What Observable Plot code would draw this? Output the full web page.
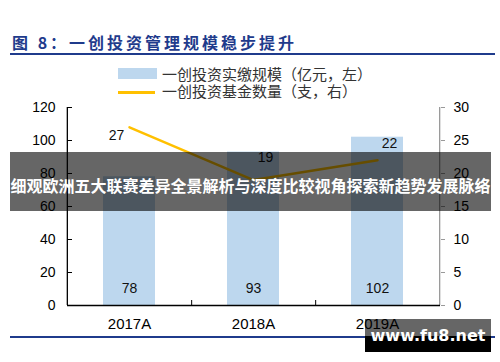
<!DOCTYPE html>
<html><head><meta charset="utf-8">
<script src="https://cdn.jsdelivr.net/npm/d3@7"></script>
<script src="https://cdn.jsdelivr.net/npm/@observablehq/plot@0.6"></script>
<style>
body{margin:0;background:#fff}
#wrap{position:relative;width:500px;height:362px;overflow:hidden;background:#fff;font-family:"Liberation Sans",Arial,sans-serif}
#title{position:absolute;left:12px;top:32px;line-height:20px;font-family:"Noto Sans CJK SC",sans-serif;font-weight:bold;font-size:16px;letter-spacing:3px;color:#1F3B8C;white-space:nowrap}
.hr{position:absolute;left:10px;width:485px;height:2px;background:#1F3B8C}
.lg{position:absolute;left:118px;height:18px;font-family:"Noto Sans CJK SC",sans-serif;font-size:15px;line-height:18px;color:#333;white-space:nowrap}
.lg .sw{position:absolute;left:0}
.lg .tx{position:absolute;left:44px;top:0}
#chart{position:absolute;left:0;top:95px}
#banner{position:absolute;left:10px;top:152px;width:481px;height:59px;background:rgba(0,0,0,0.6);color:#fff;font-family:"Noto Sans CJK SC",sans-serif;font-weight:bold;font-size:16px;line-height:59px;padding-top:4px;box-sizing:border-box;text-align:center;white-space:nowrap}
#wm{position:absolute;left:365px;top:319px;width:126px;height:33px;background:linear-gradient(to bottom,rgba(0,0,0,0.6) 0,rgba(0,0,0,0.6) 52%,#000 52%,#000 100%);color:#fff;font-family:"DejaVu Sans",sans-serif;font-weight:bold;font-size:16px;line-height:33px;text-align:center}
</style></head><body>
<div id="wrap">
  <div id="title"></div>
  <div class="hr" style="top:53px"></div>
  <div class="lg" id="lg1" style="top:65px"><div class="sw" style="top:3px;width:39px;height:11px;background:#BDD7EE"></div><div class="tx"></div></div>
  <div class="lg" id="lg2" style="top:82px"><div class="sw" style="top:9px;width:37px;height:3px;background:#FFC000"></div><div class="tx"></div></div>
  <div id="chart"></div>
  <div class="hr" style="top:336px"></div>
  <div id="banner"></div>
  <div id="wm"></div>
</div>
<script>
const titleText = "图 8：一创投资管理规模稳步提升";
const seriesNames = ["一创投资实缴规模（亿元，左）", "一创投资基金数量（支，右）"];
const years = ["2017A", "2018A", "2019A"];
const paidInScale = [78, 93, 102];
const fundCount = [27, 19, 22];
const leftTicks = [0, 20, 40, 60, 80, 100, 120];
const rightTicks = [0, 5, 10, 15, 20, 25, 30];
const bannerText = "细观欧洲五大联赛差异全景解析与深度比较视角探索新趋势发展脉络";
const watermarkText = "www.fu8.net";

document.getElementById("title").textContent = titleText;
document.querySelector("#lg1 .tx").textContent = seriesNames[0];
document.querySelector("#lg2 .tx").textContent = seriesNames[1];
document.getElementById("banner").textContent = bannerText;
document.getElementById("wm").textContent = watermarkText;

const rows = years.map((y, i) => ({year: y, scale: paidInScale[i], funds: fundCount[i]}));
const ratio = 120 / 30; // right axis -> left axis units

const W = 500, H = 240, mL = 67, mR = 60, mT = 12, mB = 30;
const plotW = W - mL - mR, plotH = H - mT - mB;
const half = plotW / years.length / 2;

const labelDx = [-13, 12, 12];
const labelDy = [8, -23, -17];

const marks = [
  Plot.barY(rows, {x: "year", y: "scale", fill: "#BDD7EE"}),
  Plot.tickY(leftTicks, {y: d => d, insetRight: plotW - 5, stroke: "#000"}),
  Plot.ruleX([years[0]], {dx: -half, stroke: "#000", strokeWidth: 1.3}),
  Plot.ruleX([years[years.length - 1]], {dx: half, stroke: "#999", strokeWidth: 1.3}),
  Plot.ruleX(years.slice(0, -1), {dx: half, insetTop: plotH - 5, stroke: "#000"}),
  Plot.ruleY([0], {stroke: "#000", strokeWidth: 1.5}),
  Plot.axisY(leftTicks, {anchor: "left", tickSize: 0, tickPadding: 12, label: null, fontSize: 14}),
  Plot.axisY(rightTicks.map(d => d * ratio), {anchor: "right", tickSize: 4, tickPadding: 9, stroke: "#999", tickFormat: d => d / ratio, label: null, fontSize: 14}),
  Plot.axisX({tickSize: 0, tickPadding: 13, label: null, fontSize: 15}),
  Plot.line(rows, {x: "year", y: d => d.funds * ratio, stroke: "#FFC000", strokeWidth: 2.5}),
  Plot.text(rows, {x: "year", y: 0, text: d => String(d.scale), dy: -17, fontSize: 14, fill: "#111"}),
  ...rows.map((r, i) => Plot.text([r], {x: "year", y: d => d.funds * ratio, text: d => String(d.funds), dx: labelDx[i], dy: labelDy[i], fontSize: 14, fill: "#111"}))
];

const chart = Plot.plot({
  width: W, height: H,
  marginLeft: mL, marginRight: mR, marginTop: mT, marginBottom: mB,
  style: {fontFamily: "Liberation Sans, Arial, sans-serif", fontSize: "14px", color: "#000", background: "transparent"},
  x: {domain: years, paddingInner: 0.58, paddingOuter: 0.29},
  y: {domain: [0, 120]},
  marks
});
document.getElementById("chart").appendChild(chart);
</script>
</body></html>
